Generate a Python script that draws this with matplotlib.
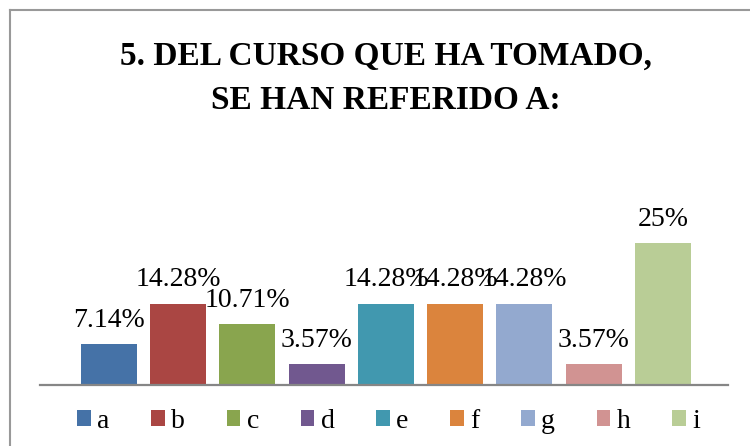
import matplotlib
matplotlib.use("Agg")
import matplotlib.pyplot as plt
from matplotlib.lines import Line2D

# chart data
categories = ["a", "b", "c", "d", "e", "f", "g", "h", "i"]
values = [7.14, 14.28, 10.71, 3.57, 14.28, 14.28, 14.28, 3.57, 25]
labels = ["7.14%", "14.28%", "10.71%", "3.57%", "14.28%", "14.28%", "14.28%", "3.57%", "25%"]
colors = ["#4572A7", "#AA4643", "#89A54E", "#71588F", "#4198AF",
          "#DB843D", "#93A9CF", "#D19392", "#B9CD96"]
title_lines = ["5. DEL CURSO QUE HA TOMADO,", "SE HAN REFERIDO A:"]

W, H = 750, 446
serif = "Liberation Serif"

fig = plt.figure(figsize=(W / 100, H / 100), dpi=100)
ax = fig.add_axes([40 / W, 1 - 384.5 / H, (728 - 40) / W, 170.1 / H])

x = list(range(len(categories)))
bars = ax.bar(x, values, width=56 / 69.25, color=colors)
ax.bar_label(bars, labels=labels, padding=8, fontsize=20, family=serif)

ax.set_xlim(-0.996, 8.94)
ax.set_ylim(0, 30)
for s in ["top", "right", "left"]:
    ax.spines[s].set_visible(False)
ax.spines["bottom"].set_color("#868686")
ax.spines["bottom"].set_linewidth(1.6)
ax.set_xticks([])
ax.set_yticks([])

# title
fig.text(386 / W, 1 - 65 / H, title_lines[0], ha="center", va="baseline",
         fontsize=24, fontweight="bold", family=serif)
fig.text(386 / W, 1 - 109 / H, title_lines[1], ha="center", va="baseline",
         fontsize=24, fontweight="bold", family=serif)

# legend
fig.legend(bars, categories, loc="center left", bbox_to_anchor=(77 / W, 1 - 421.5 / H),
           ncol=len(categories), frameon=False, borderpad=0, borderaxespad=0,
           handlelength=0.5, handleheight=0.54, handletextpad=0.22,
           columnspacing=1.5, prop={"family": serif, "size": 20})

# chart border
fig.add_artist(Line2D([10 / W, 10 / W], [0, 1 - 10 / H], color="#999999", lw=1.5))
fig.add_artist(Line2D([10 / W, 1], [1 - 10 / H, 1 - 10 / H], color="#999999", lw=1.5))

fig.savefig("out.png", dpi=100)
